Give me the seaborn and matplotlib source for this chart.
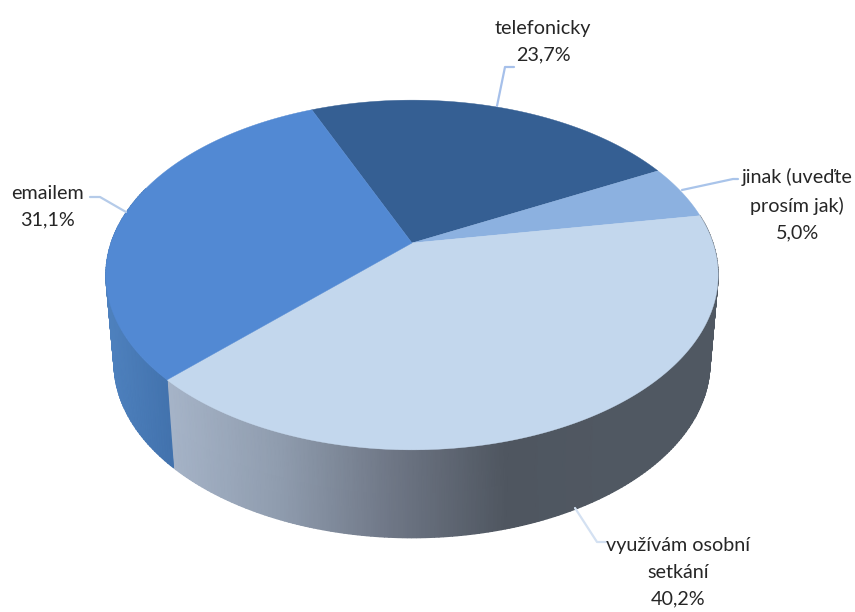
import numpy as np
import seaborn as sns
import matplotlib.pyplot as plt

sns.set_theme(style='white')
plt.rcParams['font.family'] = ['Lato', 'Liberation Sans', 'DejaVu Sans']

# Data, clockwise from the emailem / telefonicky boundary
labels = ['telefonicky', 'jinak (uveďte\nprosím jak)', 'využívám osobní\nsetkání', 'emailem']
values = [23.7, 5.0, 40.2, 31.1]

top_colors = ['#355f93', '#8cb1e0', '#c3d7ed', '#5289d3']
leader_colors = ['#a6c0ea', '#a9c4ea', '#d4e1f2', '#b5cbe9']
label_pos = [(543, 42), (797, 205), (678, 572), (47, 207)]
leader_x = [(497, 505, 514), (682, 733, 738), (575, 597, 607), (126, 100, 90)]
leader_y = [(106, 67, 67), (190, 179, 179), (508, 542, 542), (212, 197, 197)]

# Perspective of the disc, in pixels
start_angle = 112.9
k = 0.183
apex_x, apex_y = 412, 243


def project(theta, cy, a):
    u, v = np.cos(theta), np.sin(theta)
    w = 1 + k * v
    return apex_x + a * u / w, cy - 169 * v / w


def top(theta):
    return project(theta, apex_y, 301)


def bottom(theta):
    return project(theta, 331, 293)


fig = plt.figure(figsize=(8.55, 6.12), dpi=100)
ax = fig.add_axes([0, 0, 1, 1])
ax.set_xlim(0, 855)
ax.set_ylim(612, 0)
ax.axis('off')

edges = start_angle - np.cumsum([0] + values) * 3.6

# Side walls, only emailem and osobni setkani can be seen from the front
osobni_cmap = sns.blend_palette(['#a6b4c8', '#8f9cae', '#6e7685', '#4f5660', '#505862'], as_cmap=True)
t = np.radians(np.linspace(edges[2], edges[3], 200))
X = np.vstack([top(t)[0], bottom(t)[0]])
Y = np.vstack([top(t)[1], bottom(t)[1]])
ax.pcolormesh(X, Y, X, cmap=osobni_cmap, shading='gouraud', vmin=168, vmax=620, zorder=1)

email_cmap = sns.blend_palette(['#4f82bf', '#4272ad'], as_cmap=True)
t = np.radians(np.linspace(edges[3], -200, 80))
X = np.vstack([top(t)[0], bottom(t)[0]])
Y = np.vstack([top(t)[1], bottom(t)[1]])
ax.pcolormesh(X, Y, X, cmap=email_cmap, shading='gouraud', zorder=1)

# Top of the pie
for i, color in enumerate(top_colors):
    t = np.radians(np.linspace(edges[i], edges[i + 1], 200))
    x, y = top(t)
    ax.fill(np.r_[apex_x, x], np.r_[apex_y, y], color=color, lw=0.3, zorder=2)

# Leaders and labels
for i, label in enumerate(labels):
    ax.plot(leader_x[i], leader_y[i], color=leader_colors[i], lw=1.6, zorder=3,
            solid_joinstyle='round')
    text = label + '\n' + f'{values[i]:.1f}'.replace('.', ',') + '%'
    ax.text(label_pos[i][0], label_pos[i][1], text, ha='center', va='center',
            fontsize=14.2, color='#262626', linespacing=1.69, zorder=4)

plt.savefig('out.png', dpi=100)
plt.close()
